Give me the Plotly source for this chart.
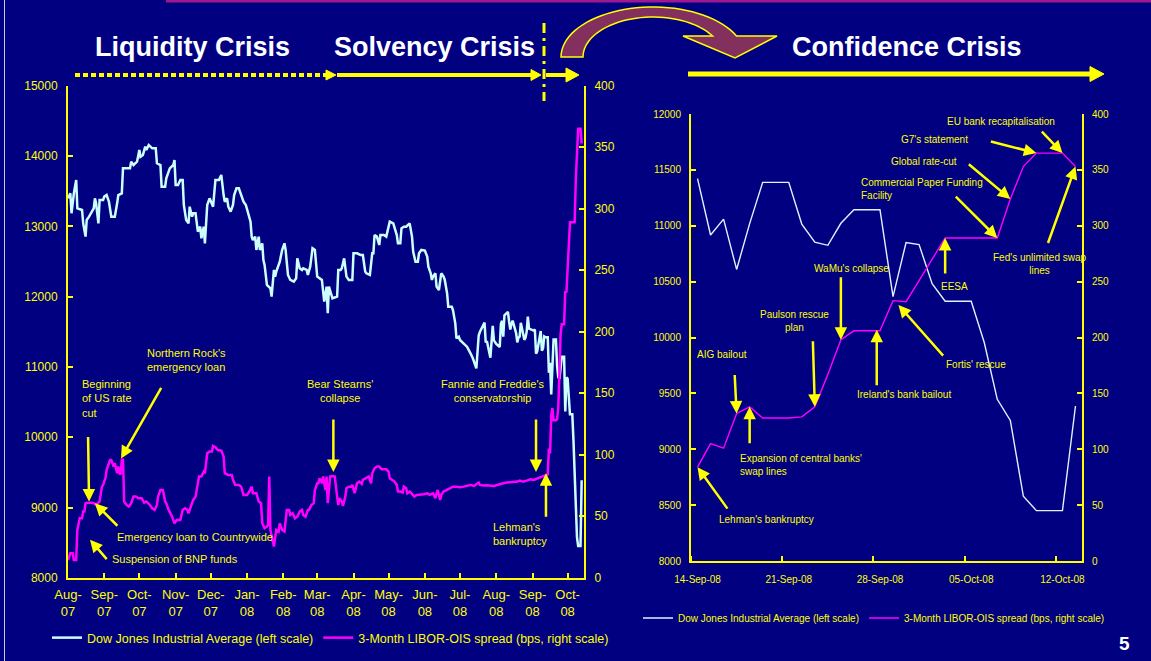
import numpy as np
import pandas as pd
import plotly.graph_objects as go

W, H = 1151, 661
NAVY = "#000080"
YEL = "#FFFF00"
CYAN = "#CCFFFF"
MAG = "#FF00FF"
FONT = "Liberation Sans, Arial, sans-serif"

# ---------------- data ----------------
BASE = pd.Timestamp("2007-08-01")

# Dow Jones Industrial Average, left panel: day offsets from 1-Aug-2007
dji_day = [0, 2, 3, 5, 7, 8, 12, 13, 15, 16, 18, 20, 22, 23, 24, 26, 27, 30, 31, 33, 35, 37, 40, 42, 43, 46,
           47, 50, 53, 54, 56, 59, 61, 62, 64, 66, 67, 69, 72, 74, 75, 76, 79, 80, 83, 84, 86, 87, 90, 91, 92,
           94, 96, 98, 99, 101, 103, 104, 106, 107, 109, 110, 111, 113, 114, 116, 117, 119, 121, 124, 126, 129,
           131, 133, 134, 136, 137, 139, 141, 142, 144, 146, 148, 150, 152, 154, 156, 157, 158, 160, 161, 163,
           164, 166, 167, 168, 170, 173, 174, 176, 177, 178, 180, 181, 183, 185, 186, 188, 190, 193, 195, 196,
           198, 200, 201, 204, 205, 207, 209, 211, 213, 217, 219, 221, 222, 223, 226, 230, 231, 233, 234, 236,
           238, 240, 243, 244, 247, 250, 252, 253, 254, 255, 258, 260, 261, 262, 264, 266, 267, 270, 272, 274,
           275, 278, 279, 281, 282, 284, 285, 287, 289, 291, 292, 294, 295, 297, 299, 300, 302, 305, 307, 308,
           310, 311, 312, 314, 315, 317, 318, 319, 321, 322, 324, 325, 328, 329, 331, 332, 334, 335, 338, 341,
           344, 346, 349, 350, 351, 352, 355, 356, 357, 358, 361, 362, 363, 364, 366, 369, 370, 371, 372, 373,
           376, 377, 378, 379, 380, 383, 384, 385, 386, 387, 390, 391, 392, 393, 394, 398, 399, 400, 401, 404,
           405, 406, 407, 408]
dji_val = [13398, 13469, 13185, 13469, 13659, 13256, 13232, 13042, 12853, 13090, 13137, 13208, 13256, 13398,
           13327, 13042, 13374, 13374, 13422, 13445, 13350, 13137, 13137, 13327, 13445, 13469, 13824, 13824,
           13824, 13919, 13872, 13919, 14085, 13990, 14014, 14133, 14085, 14156, 14109, 14109, 14109, 13896,
           13872, 13564, 13564, 13682, 13801, 13824, 13872, 13943, 13588, 13588, 13659, 13659, 13303, 13090,
           13042, 13279, 13137, 13185, 13185, 12995, 12924, 12995, 12829, 12995, 12758, 13303, 13398, 13279,
           13659, 13659, 13730, 13445, 13350, 13398, 13279, 13208, 13303, 13445, 13540, 13540, 13445, 13350,
           13303, 13185, 13066, 12853, 12805, 12853, 12663, 12853, 12663, 12758, 12521, 12450, 12166, 12118,
           12000, 12379, 12284, 12355, 12450, 12497, 12663, 12758, 12663, 12308, 12237, 12213, 12260, 12545,
           12402, 12379, 12402, 12379, 12308, 12426, 12687, 12663, 12284, 12237, 11928, 12142, 11763, 12142,
           11976, 12000, 12379, 12379, 12402, 12545, 12284, 12237, 12237, 12616, 12616, 12592, 12592, 12497,
           12355, 12331, 12308, 12616, 12616, 12876, 12853, 12734, 12876, 12876, 12853, 12995, 13066, 13042,
           12995, 12876, 12758, 12758, 12971, 12995, 12995, 13019, 13042, 12853, 12640, 12497, 12497, 12616,
           12663, 12654, 12568, 12426, 12331, 12237, 12284, 12331, 12142, 12094, 12237, 12331, 12284, 12237,
           12047, 11857, 11857, 11810, 11620, 11407, 11430, 11383, 11335, 11288, 11193, 11122, 10980, 11240,
           11446, 11496, 11602, 11632, 11349, 11370, 11131, 11397, 11583, 11378, 11326, 11284, 11615, 11656,
           11431, 11734, 11782, 11642, 11532, 11615, 11659, 11479, 11348, 11417, 11430, 11628, 11386, 11413,
           11502, 11715, 11543, 11516, 11532, 11188, 11220, 11510, 11230, 11268, 11433, 11421]

# 3-Month LIBOR-OIS spread (bps), left panel: day offsets from 1-Aug-2007
libor_day = [0, 2, 4, 5, 7, 8, 10, 12, 13, 14, 15, 17, 20, 22, 24, 26, 27, 29, 30, 32, 33, 35, 36, 37, 39, 40,
             42, 43, 44, 45, 46, 47, 48, 50, 52, 54, 56, 58, 60, 63, 65, 67, 69, 70, 72, 74, 76, 77, 79, 81, 82,
             83, 84, 86, 89, 91, 93, 96, 98, 100, 102, 103, 104, 107, 109, 110, 112, 114, 116, 117, 118, 119, 121,
             123, 124, 126, 128, 131, 133, 134, 137, 140, 141, 143, 146, 148, 150, 153, 155, 157, 158, 161, 163,
             165, 166, 168, 170, 171, 172, 173, 176, 178, 180, 181, 183, 185, 187, 189, 190, 192, 194, 196, 198,
             200, 201, 203, 205, 206, 208, 210, 211, 213, 214, 215, 217, 218, 220, 221, 222, 224, 226, 228, 230,
             231, 232, 234, 235, 237, 238, 240, 242, 243, 245, 247, 249, 251, 252, 255, 257, 259, 260, 262, 264,
             266, 268, 272, 274, 275, 277, 279, 281, 282, 284, 286, 287, 289, 290, 292, 294, 296, 298, 301, 304,
             307, 309, 312, 314, 315, 316, 318, 319, 321, 324, 327, 329, 332, 335, 338, 341, 344, 347, 349, 351,
             352, 355, 358, 361, 364, 366, 369, 372, 375, 378, 381, 384, 386, 389, 392, 395, 398, 401, 403, 406,
             408]
libor_val = [14.5, 19.9, 19.9, 14.5, 14.5, 38.9, 48.4, 48.4, 53.8, 53.8, 60.6, 61.1, 61.1, 60.6, 59.2, 60.6,
             62, 74.1, 75.5, 80.9, 87.7, 93.1, 95.8, 95.8, 90.4, 93.1, 85, 90.4, 85, 84, 96, 96, 62, 59.2, 57.9,
             60.6, 66, 66, 64.6, 64.6, 61.1, 62, 60.6, 59.2, 56.5, 55.2, 59.2, 66, 71.4, 71.4, 67.4, 62, 60.6,
             55.2, 49.7, 44.3, 47, 47, 55.2, 56.5, 55.2, 52.5, 55.2, 63.3, 66, 72.8, 82.3, 82.3, 86.3, 85, 93.1,
             101.2, 102.6, 102.6, 107.2, 106.1, 103.9, 103.4, 98.5, 85, 83.6, 83.6, 79.6, 75.5, 75.5, 74.1, 67.4,
             67.4, 70.1, 74.1, 68.7, 68.7, 62, 60.6, 44.3, 40.3, 41.6, 43, 82.3, 38.9, 25.4, 38.9, 37.6, 44.3,
             38.9, 37.6, 55.2, 55.2, 51.1, 52.5, 48.4, 49.7, 53.8, 55.2, 51.1, 49.7, 55.2, 55.2, 59.2, 60.6, 71.4,
             76.8, 76.8, 80.9, 76.8, 82.3, 71.4, 82.3, 60.6, 82.3, 82.8, 82.3, 66, 59.2, 64.6, 62, 58.4, 66, 72.8,
             74.1, 74.1, 75.5, 68.7, 76.8, 78.2, 76.3, 79.6, 80.9, 82.3, 76.8, 85, 89, 90.4, 90.4, 88.2, 88.2,
             86.3, 80.9, 79.6, 78.2, 75.5, 70.1, 70.1, 69.3, 74.1, 72.8, 68.7, 70.1, 68.2, 66, 67.4, 67.4, 67.9,
             68.7, 67.4, 68.7, 64.6, 68.7, 71.4, 63.3, 67.4, 70.1, 71.4, 72.8, 74.1, 74.1, 73.6, 74.1, 74.7, 75.5,
             74.7, 76.3, 77.4, 75.5, 75, 75.2, 74.7, 74.7, 75.2, 76.3, 76.8, 77.4, 77.6, 78.2, 78.2, 79, 78.2,
             79, 80.1, 79.6, 80.6, 81.2, 82.3, 83]

# Right panel (daily, 14-Sep-08 .. 13-Oct-08)
zoom_dates = pd.date_range("2008-09-14", "2008-10-13", freq="D")
zoom_dji = [11421, 10917, 11059, 10609, 11019, 11388, 11388, 11388, 11015, 10854, 10825, 11022, 11143,
            11143, 11143, 10365, 10850, 10831, 10482, 10325, 10325, 10325, 9955, 9447, 9258, 8579, 8451,
            8451, 8451, 9387]
zoom_libor = [84, 105, 101, 132, 138, 128, 128, 128, 129, 138, 167, 198, 206, 206, 206, 233, 232, 251, 270,
              289, 289, 289, 289, 289, 324, 353, 365, 365, 365, 353]

left_months = pd.date_range("2007-08-01", "2008-10-01", freq="MS")
left_ticktext = [d.strftime("%b-<br>%y") for d in left_months]
zoom_tickdates = zoom_dates[::7]
zoom_ticktext = [d.strftime("%d-%b-%y") for d in zoom_tickdates]

NAME_DJI = "Dow Jones Industrial Average (left scale)"
NAME_LIB = "3-Month LIBOR-OIS spread (bps, right scale)"

# full left-panel series = early readings + daily right-panel data
left_dji_x = list(BASE + pd.to_timedelta(dji_day, unit="D")) + list(zoom_dates)
left_dji_y = dji_val + zoom_dji
left_lib_x = list(BASE + pd.to_timedelta(libor_day, unit="D")) + list(zoom_dates)
left_lib_y = libor_val + zoom_libor


def fx(x):
    return x / W


def fy(y):
    return 1 - y / H


fig = go.Figure()
fig.add_trace(go.Scatter(x=left_dji_x, y=left_dji_y, mode="lines", name=NAME_DJI,
                         line=dict(color=CYAN, width=2.5), xaxis="x", yaxis="y", legend="legend"))
fig.add_trace(go.Scatter(x=left_lib_x, y=left_lib_y, mode="lines", name=NAME_LIB,
                         line=dict(color=MAG, width=2.5), xaxis="x", yaxis="y2", legend="legend"))
fig.add_trace(go.Scatter(x=zoom_dates, y=zoom_dji, mode="lines", name=NAME_DJI,
                         line=dict(color="#DDF4FF", width=1.4), xaxis="x2", yaxis="y3", legend="legend2"))
fig.add_trace(go.Scatter(x=zoom_dates, y=zoom_libor, mode="lines", name=NAME_LIB,
                         line=dict(color=MAG, width=1.4), xaxis="x2", yaxis="y4", legend="legend2"))

axis_common = dict(showgrid=False, zeroline=False, showline=True, linecolor=YEL,
                   ticks="inside", tickcolor=YEL, ticklen=5, automargin=False)

fig.update_layout(
    width=W, height=H, margin=dict(l=0, r=0, t=0, b=0, pad=0, autoexpand=False),
    paper_bgcolor=NAVY, plot_bgcolor="rgba(0,0,0,0)",
    font=dict(family=FONT, color=YEL),
    xaxis=dict(domain=[fx(68), fx(584)], anchor="y", type="date",
               range=["2007-08-01", "2008-10-15"], tickmode="array",
               tickvals=left_months, ticktext=left_ticktext, linewidth=2, tickwidth=2,
               tickfont=dict(size=13, color=YEL, family=FONT), ticklabelstandoff=4,
               **axis_common),
    yaxis=dict(domain=[fy(577.8), fy(85.7)], anchor="x", range=[8000, 15000], dtick=1000,
               tick0=8000, tickformat="d", linewidth=2, tickwidth=2,
               tickfont=dict(size=12, color=YEL, family=FONT),
               ticklabelstandoff=6, **axis_common),
    yaxis2=dict(overlaying="y", anchor="x", side="right", range=[0, 400], dtick=50, tick0=0,
                tickformat="d", linewidth=2, tickwidth=2, tickfont=dict(size=12, color=YEL, family=FONT),
                ticklabelstandoff=6, **axis_common),
    xaxis2=dict(domain=[fx(691), fx(1082)], anchor="y3", type="date",
                range=["2008-09-13 12:00", "2008-10-13 12:00"], tickmode="array",
                tickvals=zoom_tickdates, ticktext=zoom_ticktext, automargin=False,
                showgrid=False, zeroline=False, showline=True, linecolor=YEL, linewidth=2,
                ticks="", tickfont=dict(size=10, color=YEL, family=FONT), ticklabelstandoff=8,
                minor=dict(ticks="inside", ticklen=5, tickcolor=YEL, tickwidth=1.5,
                           tick0="2008-09-20 12:00", dtick=7 * 86400000)),
    yaxis3=dict(domain=[fy(561), fy(114)], anchor="x2", range=[8000, 12000], dtick=500, tick0=8000,
                tickformat="d", linewidth=2, tickwidth=1.5, tickfont=dict(size=10, color=YEL, family=FONT),
                ticklabelstandoff=6, **axis_common),
    yaxis4=dict(overlaying="y3", anchor="x2", side="right", range=[0, 400], dtick=50, tick0=0,
                tickformat="d", linewidth=2, tickwidth=1.5, tickfont=dict(size=10, color=YEL, family=FONT),
                ticklabelstandoff=6, **axis_common),
    legend=dict(orientation="h", x=fx(47), y=fy(638), xanchor="left", yanchor="middle",
                bgcolor="rgba(0,0,0,0)", font=dict(size=12.5, color=YEL, family=FONT),
                itemwidth=30),
    legend2=dict(orientation="h", x=fx(638), y=fy(618), xanchor="left", yanchor="middle",
                 bgcolor="rgba(0,0,0,0)", font=dict(size=10, color=YEL, family=FONT),
                 itemwidth=30),
    showlegend=True,
)

ann = []


def txt(text, x, y1, size, anchor="left", color=YEL, bold=False):
    t = "<b>%s</b>" % text if bold else text
    ann.append(dict(xref="paper", yref="paper", x=fx(x), y=fy(y1 - size * 0.75),
                    xanchor=anchor, yanchor="top", text=t, showarrow=False,
                    align=anchor if anchor != "center" else "center",
                    font=dict(size=size, color=color, family=FONT)))


def arrow(xref, yref, x, y, ax, ay, width=2.5):
    ann.append(dict(xref=xref, yref=yref, x=x, y=y, ax=ax, ay=ay, text="", showarrow=True,
                    arrowhead=2, arrowsize=1, arrowwidth=width, arrowcolor=YEL, standoff=0))


# headers
for t, cx in [("Liquidity Crisis", 192), ("Solvency Crisis", 434), ("Confidence Crisis", 907)]:
    ann.append(dict(xref="paper", yref="paper", x=fx(cx), y=fy(47), xanchor="center", yanchor="middle",
                    text="<b>%s</b>" % t, showarrow=False,
                    font=dict(size=27, color="white", family=FONT)))
ann.append(dict(xref="paper", yref="paper", x=fx(1124), y=fy(643), xanchor="center", yanchor="middle",
                text="<b>5</b>", showarrow=False, font=dict(size=19, color="white", family=FONT)))

# left panel labels
txt("Beginning<br>of US rate<br>cut", 80, 384, 11)
txt("Northern Rock's<br>emergency loan", 145, 353, 11)
txt("Emergency loan to Countrywide", 115, 537, 11)
txt("Suspension of BNP funds", 110, 559, 11)
txt("Bear Stearns'<br>collapse", 340, 384, 11, "center")
txt("Fannie and Freddie's<br>conservatorship", 492, 384, 11, "center")
txt("Lehman's<br>bankruptcy", 491, 527, 11)

arrow("x", "y2", "2007-08-19", 62, -1, -66)
arrow("x", "y2", "2007-09-15 08:00", 97, 41, -72)
arrow("x", "y2", "2007-08-24", 60.6, 24, 24)
arrow("x", "y2", "2007-08-19 19:00", 31, 18, 21)
arrow("x", "y2", "2008-03-14 19:00", 86, 0, -54)
arrow("x", "y2", "2008-09-04", 86, 0, -54)
arrow("x", "y2", "2008-09-12 12:00", 85, 0, 45)

# right panel labels
txt("EU bank recapitalisation", 1001, 121, 10, "center")
txt("G7's statement", 934, 140, 10, "center")
txt("Global rate-cut", 924, 161, 10, "center")
txt("Commercial Paper Funding<br>Facility", 859, 183, 10)
txt("EESA", 954, 286, 10, "center")
txt("Fed's unlimited swap<br>lines", 1040, 257, 10, "center")
txt("WaMu's collapse", 851, 268, 10, "center")
txt("Paulson rescue<br>plan", 794, 314, 10, "center")
txt("AIG bailout", 722, 354, 10, "center")
txt("Expansion of central banks'<br>swap lines", 738, 458, 10)
txt("Lehman's bankruptcy", 766, 519, 10, "center")
txt("Ireland's bank bailout", 904, 394, 10, "center")
txt("Fortis' rescue", 976, 364, 10, "center")

zd = [d.strftime("%Y-%m-%d") for d in zoom_dates]
arrow("x2", "y4", zd[28], zoom_libor[28], -22, -23)
arrow("x2", "y4", zd[26], zoom_libor[26], -47, -12)
arrow("x2", "y4", zd[24], zoom_libor[24], -43, -36)
arrow("x2", "y4", zd[23], zoom_libor[23], -43, -43)
arrow("x2", "y4", zd[19], zoom_libor[19], 0, 37)
arrow("x2", "y4", zd[29], zoom_libor[29], -28, 78)
arrow("x2", "y4", zd[11], zoom_libor[11], 0, -64)
arrow("x2", "y4", zd[9], zoom_libor[9], -2, -67)
arrow("x2", "y4", zd[3], zoom_libor[3], -2, -40)
arrow("x2", "y4", zd[4], zoom_libor[4], 0, 38)
arrow("x2", "y4", zd[0], zoom_libor[0], 31, 43)
arrow("x2", "y4", "2008-09-27 18:00", 207, 0, 57)
arrow("x2", "y4", "2008-09-29 10:00", 229, 46, 52)

fig.update_layout(annotations=ann)

# ---------------- decorative shapes ----------------
shapes = []


def pline(x0, y0, x1, y1, color, width, dash=None):
    d = dict(type="line", xref="paper", yref="paper", x0=fx(x0), y0=fy(y0), x1=fx(x1), y1=fy(y1),
             line=dict(color=color, width=width))
    if dash:
        d["line"]["dash"] = dash
    shapes.append(d)


def ppath(pts, fill, lc, lw):
    p = "M " + " L ".join("%.5f,%.5f" % (fx(a), fy(b)) for a, b in pts) + " Z"
    shapes.append(dict(type="path", xref="paper", yref="paper", path=p, fillcolor=fill,
                       line=dict(color=lc, width=lw)))


def harrow(x0, x1, y, width, hl, hh, dash=None):
    pline(x0, y, x1 - hl + 1, y, YEL, width, dash)
    ppath([(x1 - hl, y - hh / 2), (x1, y), (x1 - hl, y + hh / 2)], YEL, YEL, 1)


# top purple rule and left border
pline(166, 1, 1151, 1, "#A0188F", 3)
pline(4.5, 0, 4.5, 661, "#C8C8E8", 1)

harrow(75, 336, 75, 4, 10, 10, dash="5px,3px")
harrow(337, 541, 75, 4, 10, 11)
harrow(546, 579, 75, 4, 13, 14)
harrow(688, 1104, 74, 5, 14, 15)
pline(544, 23, 544, 101, YEL, 3, dash="10px,5px,3px,5px")

# curved arrow (maroon with yellow outline)
cx, cy = 653, 57
outer = []
th_end_o = np.arcsin(21 / 50)
for th in np.linspace(np.pi, th_end_o, 40):
    outer.append((cx + 92 * np.cos(th), cy - 50 * np.sin(th)))
inner = []
th_end_i = np.arcsin(21 / 40)
for th in np.linspace(th_end_i, np.pi, 40):
    inner.append((cx + 70 * np.cos(th), cy - 40 * np.sin(th)))
pts = outer + [(777, 36), (735, 58), (683, 36)] + inner
ppath(pts, "#84305E", YEL, 1.5)

fig.update_layout(shapes=shapes)

fig.write_html("out.html", config={"displayModeBar": False},
               post_script="document.body.style.margin='0';document.body.style.overflow='hidden';")
